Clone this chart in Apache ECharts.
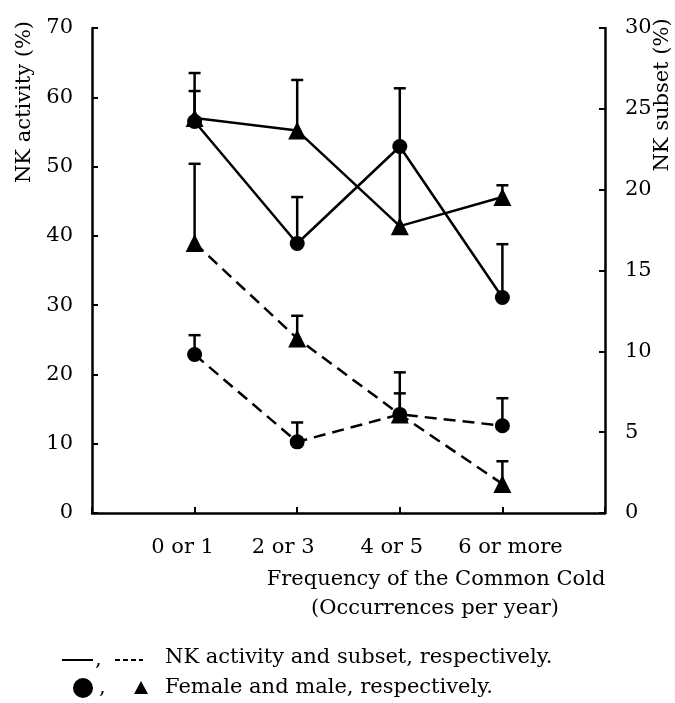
<!DOCTYPE html>
<html>
<head>
<meta charset="utf-8">
<script src="https://cdn.jsdelivr.net/npm/echarts@6/dist/echarts.min.js"></script>
<style>
  html, body { margin: 0; padding: 0; background: #fff; }
  #chart { width: 675px; height: 703px; }
</style>
</head>
<body>
<div id="chart"></div>
<script>
// categories sit at x = 1..4 on a 0..5 value axis
const categories = ['0 or 1', '2 or 3', '4 or 5', '6 or more']
const xPos = [1, 2, 3, 4]

// NK activity (%), left axis
const femaleActivity = [56.5, 38.9, 52.9, 31.1]
const femaleActivityErr = [60.9, 45.6, 61.3, 38.8]
const maleActivity = [57.0, 55.2, 41.4, 45.6]
const maleActivityErr = [63.5, 62.5, 52.9, 47.3]

// NK subset (%), right axis
const femaleSubset = [9.8, 4.4, 6.1, 5.4]
const femaleSubsetErr = [11.0, 5.6, 7.4, 7.1]
const maleSubset = [16.7, 10.8, 6.1, 1.8]
const maleSubsetErr = [21.6, 12.2, 8.7, 3.2]

const FONT = 'DejaVu Serif'
const TXT = '21px "DejaVu Serif"'

// labels in the original are not quite centred on their ticks (px shift)
const labelShift = [-12, -14, -8, 8]
const labelRich = {}
labelShift.forEach((s, i) => {
  labelRich['c' + i] = {
    fontSize: 21,
    fontFamily: FONT,
    color: '#000',
    padding: s < 0 ? [0, -2 * s, 0, 0] : [0, 0, 0, 2 * s]
  }
})

function pts(vals) {
  return xPos.map((x, i) => [x, vals[i]])
}

function errData(vals, tops) {
  return xPos.map((x, i) => [x, vals[i], tops[i]])
}

// error bar: line from the mean up to the top, with a cap
function renderErr(params, api) {
  const p0 = api.coord([api.value(0), api.value(1)])
  const p1 = api.coord([api.value(0), api.value(2)])
  const style = { stroke: '#000', lineWidth: 2.5 }
  return {
    type: 'group',
    children: [
      { type: 'line', shape: { x1: p0[0], y1: p0[1], x2: p1[0], y2: p1[1] }, style },
      { type: 'line', shape: { x1: p1[0] - 6, y1: p1[1], x2: p1[0] + 6, y2: p1[1] }, style }
    ]
  }
}

function lineSeries(data, yIdx, symbol, dashed) {
  return {
    type: 'line',
    yAxisIndex: yIdx,
    data: pts(data),
    symbol: symbol,
    symbolSize: symbol === 'circle' ? 15 : 18,
    itemStyle: { color: '#000' },
    lineStyle: { color: '#000', width: 2.5, type: dashed ? [12, 7] : 'solid' },
    z: 3
  }
}

function errSeries(vals, tops, yIdx) {
  return {
    type: 'custom',
    yAxisIndex: yIdx,
    renderItem: renderErr,
    data: errData(vals, tops),
    z: 2
  }
}

let myChart = echarts.init(document.querySelector('#chart'))

const axisLine = { show: true, lineStyle: { color: '#000', width: 2.5 } }
const axisTick = { show: true, inside: true, length: 6, lineStyle: { color: '#000', width: 2 } }

myChart.setOption({
  animation: false,
  textStyle: { fontFamily: FONT },
  grid: { left: 92, right: 70, top: 28, bottom: 190 },
  xAxis: {
    type: 'value',
    min: 0,
    max: 5,
    interval: 1,
    axisLine: axisLine,
    axisTick: axisTick,
    splitLine: { show: false },
    axisLabel: {
      margin: 24,
      color: '#000',
      fontSize: 21,
      fontFamily: FONT,
      rich: labelRich,
      formatter: v => (categories[v - 1] ? '{c' + (v - 1) + '|' + categories[v - 1] + '}' : '')
    }
  },
  yAxis: [
    {
      type: 'value',
      min: 0,
      max: 70,
      interval: 10,
      axisLine: axisLine,
      axisTick: axisTick,
      splitLine: { show: false },
      axisLabel: { margin: 19, color: '#000', fontSize: 21, fontFamily: FONT }
    },
    {
      type: 'value',
      position: 'right',
      min: 0,
      max: 30,
      interval: 5,
      axisLine: axisLine,
      axisTick: axisTick,
      splitLine: { show: false },
      axisLabel: { margin: 20, color: '#000', fontSize: 21, fontFamily: FONT }
    }
  ],
  graphic: [
    {
      type: 'text', x: 25, y: 102, rotation: Math.PI / 2,
      style: { text: 'NK activity (%)', fill: '#000', font: TXT, align: 'center', verticalAlign: 'middle' }
    },
    {
      type: 'text', x: 663, y: 95, rotation: Math.PI / 2,
      style: { text: 'NK subset (%)', fill: '#000', font: TXT, align: 'center', verticalAlign: 'middle' }
    },
    {
      type: 'text', x: 436, y: 580,
      style: { text: 'Frequency of the Common Cold', fill: '#000', font: TXT, align: 'center', verticalAlign: 'middle' }
    },
    {
      type: 'text', x: 435, y: 609,
      style: { text: '(Occurrences per year)', fill: '#000', font: TXT, align: 'center', verticalAlign: 'middle' }
    },
    // legend line 1: solid and dashed strokes
    { type: 'line', shape: { x1: 62, y1: 660, x2: 93, y2: 660 }, style: { stroke: '#000', lineWidth: 2 } },
    { type: 'text', x: 95, y: 660, style: { text: ',', fill: '#000', font: TXT, align: 'left', verticalAlign: 'middle' } },
    { type: 'line', shape: { x1: 115, y1: 660, x2: 143, y2: 660 }, style: { stroke: '#000', lineWidth: 2, lineDash: [5, 3] } },
    {
      type: 'text', x: 165, y: 658,
      style: { text: 'NK activity and subset, respectively.', fill: '#000', font: TXT, align: 'left', verticalAlign: 'middle' }
    },
    // legend line 2: circle and triangle glyphs
    { type: 'circle', shape: { cx: 83, cy: 688, r: 10 }, style: { fill: '#000' } },
    { type: 'text', x: 99, y: 688, style: { text: ',', fill: '#000', font: TXT, align: 'left', verticalAlign: 'middle' } },
    { type: 'polygon', shape: { points: [[141, 681], [134, 694], [148, 694]] }, style: { fill: '#000' } },
    {
      type: 'text', x: 165, y: 688,
      style: { text: 'Female and male, respectively.', fill: '#000', font: TXT, align: 'left', verticalAlign: 'middle' }
    }
  ],
  series: [
    errSeries(femaleActivity, femaleActivityErr, 0),
    errSeries(maleActivity, maleActivityErr, 0),
    errSeries(femaleSubset, femaleSubsetErr, 1),
    errSeries(maleSubset, maleSubsetErr, 1),
    lineSeries(femaleActivity, 0, 'circle', false),
    lineSeries(maleActivity, 0, 'triangle', false),
    lineSeries(femaleSubset, 1, 'circle', true),
    lineSeries(maleSubset, 1, 'triangle', true)
  ]
})

window.addEventListener('resize', () => {
  myChart.resize()
})
</script>
</body>
</html>
